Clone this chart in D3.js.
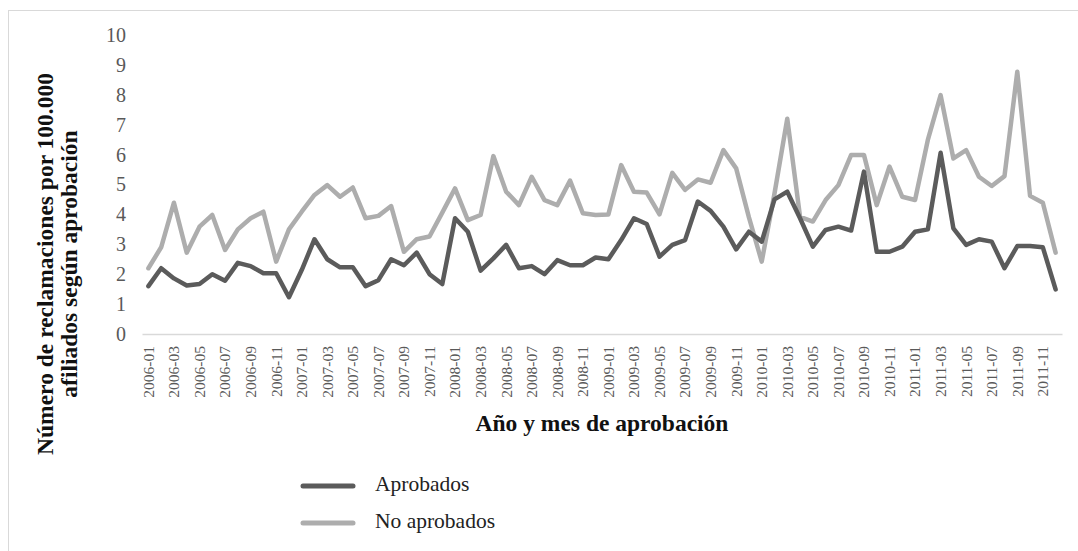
<!DOCTYPE html>
<html lang="es">
<head>
  <meta charset="UTF-8">
  <title>Reclamaciones por aprobación</title>
  <script src="https://d3js.org/d3.v7.min.js"></script>
  <style>
    body { margin: 0; background: #fff; }
    svg { display: block; font-family: "Liberation Serif", "Times New Roman", serif; }
    .tick text { fill: #595959; }
  </style>
</head>
<body>
  <svg width="1078" height="551"></svg>

  <script>
    // meses 2006-01 .. 2011-12
    const meses = [
      "2006-01","2006-02","2006-03","2006-04","2006-05","2006-06","2006-07","2006-08","2006-09","2006-10","2006-11","2006-12",
      "2007-01","2007-02","2007-03","2007-04","2007-05","2007-06","2007-07","2007-08","2007-09","2007-10","2007-11","2007-12",
      "2008-01","2008-02","2008-03","2008-04","2008-05","2008-06","2008-07","2008-08","2008-09","2008-10","2008-11","2008-12",
      "2009-01","2009-02","2009-03","2009-04","2009-05","2009-06","2009-07","2009-08","2009-09","2009-10","2009-11","2009-12",
      "2010-01","2010-02","2010-03","2010-04","2010-05","2010-06","2010-07","2010-08","2010-09","2010-10","2010-11","2010-12",
      "2011-01","2011-02","2011-03","2011-04","2011-05","2011-06","2011-07","2011-08","2011-09","2011-10","2011-11","2011-12"
    ];

    const aprobados = [
      1.60, 2.20, 1.86, 1.62, 1.67, 2.00, 1.78, 2.38, 2.27, 2.03, 2.03, 1.23,
      2.14, 3.17, 2.50, 2.23, 2.23, 1.60, 1.80, 2.50, 2.30, 2.72, 2.00, 1.67,
      3.87, 3.42, 2.12, 2.53, 2.98, 2.20, 2.27, 2.00, 2.47, 2.30, 2.30, 2.56,
      2.50, 3.14, 3.87, 3.68, 2.59, 2.98, 3.14, 4.43, 4.12, 3.59, 2.83, 3.42,
      3.09, 4.50, 4.76, 3.87, 2.92, 3.48, 3.59, 3.46, 5.43, 2.75, 2.75, 2.92,
      3.42, 3.50, 6.06, 3.53, 2.98, 3.17, 3.09, 2.20, 2.94, 2.94, 2.90, 1.49
    ];

    const noAprobados = [
      2.20, 2.90, 4.39, 2.72, 3.59, 3.98, 2.81, 3.50, 3.87, 4.09, 2.42, 3.50,
      4.09, 4.65, 4.98, 4.59, 4.90, 3.87, 3.95, 4.28, 2.75, 3.17, 3.26, 4.06,
      4.87, 3.81, 3.98, 5.95, 4.76, 4.31, 5.26, 4.48, 4.31, 5.13, 4.04, 3.98,
      4.00, 5.65, 4.76, 4.73, 4.00, 5.39, 4.82, 5.17, 5.06, 6.15, 5.54, 3.90,
      2.42, 4.70, 7.20, 3.92, 3.76, 4.48, 4.98, 5.99, 5.99, 4.31, 5.60, 4.59,
      4.48, 6.49, 7.99, 5.87, 6.15, 5.26, 4.95, 5.28, 8.77, 4.62, 4.39, 2.72
    ];

    const yTicks = [0, 1, 2, 3, 4, 5, 6, 7, 8, 9, 10];

    const series = [
      { nombre: "Aprobados", valores: aprobados, color: "#5b5b5b" },
      { nombre: "No aprobados", valores: noAprobados, color: "#adadad" }
    ];

    const svg = d3.select("svg");

    // marco del gráfico
    svg.append("rect")
      .attr("x", 8.5).attr("y", 10.5)
      .attr("width", 1100).attr("height", 600)
      .attr("fill", "none")
      .attr("stroke", "#d9d9d9")
      .attr("stroke-width", 1);

    const x = d3.scaleBand().domain(meses).range([142, 1062]);
    const y = d3.scaleLinear().domain([0, 10]).range([334, 35]);

    // eje y (solo etiquetas)
    svg.append("g")
      .attr("transform", "translate(142,0)")
      .call(d3.axisLeft(y).tickValues(yTicks).tickSize(0).tickPadding(16).tickFormat(d3.format("d")))
      .call(g => g.select(".domain").remove())
      .call(g => g.selectAll("text").attr("font-size", 20).attr("font-family", "Liberation Serif"));

    // eje x
    svg.append("g")
      .attr("transform", "translate(0,334)")
      .call(d3.axisBottom(x).tickValues(meses.filter((d, i) => i % 2 === 0)).tickSize(0))
      .call(g => g.select(".domain").attr("stroke", "#d9d9d9").attr("stroke-width", 1.5))
      .call(g => g.selectAll("text")
        .attr("font-size", 15.5)
        .attr("font-family", "Liberation Serif")
        .attr("transform", "rotate(-90)")
        .attr("x", -12)
        .attr("y", 0)
        .attr("dy", "0.35em")
        .style("text-anchor", "end"));

    const line = d3.line()
      .x((d, i) => x(meses[i]) + x.bandwidth() / 2)
      .y(d => y(d));

    // se dibuja primero la serie clara
    svg.append("g")
      .selectAll("path")
      .data(series.slice().reverse())
      .join("path")
      .attr("d", d => line(d.valores))
      .attr("fill", "none")
      .attr("stroke", d => d.color)
      .attr("stroke-width", 4.5)
      .attr("stroke-linejoin", "round")
      .attr("stroke-linecap", "round");

    // títulos de ejes
    svg.append("text")
      .attr("x", 602)
      .attr("y", 431)
      .attr("text-anchor", "middle")
      .attr("font-size", 23.5)
      .attr("font-weight", "bold")
      .attr("fill", "#111")
      .text("Año y mes de aprobación");

    const yTitle = svg.append("text")
      .attr("transform", "translate(53,264) rotate(-90)")
      .attr("text-anchor", "middle")
      .attr("font-size", 23.5)
      .attr("font-weight", "bold")
      .attr("fill", "#111");
    yTitle.append("tspan").attr("x", 0).attr("y", 0).text("Número de reclamaciones por 100.000");
    yTitle.append("tspan").attr("x", 0).attr("y", 23.5).text("afiliados según aprobación");

    // leyenda
    const leyenda = svg.append("g")
      .selectAll("g")
      .data(series)
      .join("g")
      .attr("transform", (d, i) => `translate(303,${486 + i * 37})`);

    leyenda.append("line")
      .attr("x1", 0).attr("x2", 50)
      .attr("stroke", d => d.color)
      .attr("stroke-width", 5)
      .attr("stroke-linecap", "round");

    leyenda.append("text")
      .attr("x", 72)
      .attr("y", 5)
      .attr("font-size", 21.5)
      .attr("fill", "#222")
      .text(d => d.nombre);
  </script>
</body>
</html>
